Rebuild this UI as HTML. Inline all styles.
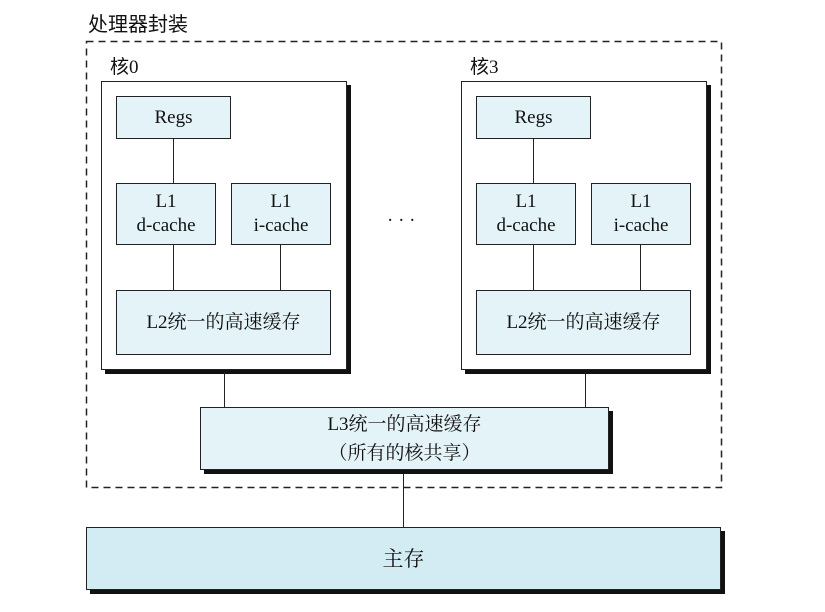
<!DOCTYPE html>
<html><head><meta charset="utf-8"><style>
body{margin:0;width:825px;height:612px;background:#fff;position:relative;overflow:hidden;font-family:"Liberation Serif","Noto Serif CJK SC",serif;color:#111}
.a{position:absolute;box-sizing:border-box}
.b{border:1.5px solid #222;background:#e3f3f8;display:flex;align-items:center;justify-content:center;text-align:center;font-size:19px;line-height:24px}
.sh{box-shadow:4px 4px 0 #111}
.core{border:1.5px solid #222;background:#fff;box-shadow:4px 4px 0 #111}
.v{position:absolute;width:1px;background:#222}
.t{position:absolute;font-size:19px;font-family:"Liberation Serif","Noto Sans CJK SC",sans-serif}
</style></head><body>
<div class="t" style="left:88px;top:8px;font-size:20px">处理器封装</div>
<svg class="a" style="left:0;top:0" width="825" height="612"><rect x="86.5" y="41.5" width="635" height="446" fill="none" stroke="#222" stroke-width="1.5" stroke-dasharray="7,5"/></svg>

<div class="t" style="left:110px;top:52px">核0</div>
<div class="a core" style="left:101px;top:81px;width:246px;height:289px"></div>
<div class="a b" style="left:116px;top:96px;width:115px;height:43px">Regs</div>
<div class="a b" style="left:116px;top:183px;width:100px;height:62px">L1<br>d-cache</div>
<div class="a b" style="left:231px;top:183px;width:100px;height:62px">L1<br>i-cache</div>
<div class="a b" style="left:116px;top:290px;width:215px;height:65px">L2统一的高速缓存</div>
<div class="v" style="left:173px;top:139px;height:44px"></div>
<div class="v" style="left:173px;top:245px;height:45px"></div>
<div class="v" style="left:280px;top:245px;height:45px"></div>

<div class="t" style="left:470px;top:52px">核3</div>
<div class="a core" style="left:461px;top:81px;width:246px;height:289px"></div>
<div class="a b" style="left:476px;top:96px;width:115px;height:43px">Regs</div>
<div class="a b" style="left:476px;top:183px;width:100px;height:62px">L1<br>d-cache</div>
<div class="a b" style="left:591px;top:183px;width:100px;height:62px">L1<br>i-cache</div>
<div class="a b" style="left:476px;top:290px;width:215px;height:65px">L2统一的高速缓存</div>
<div class="v" style="left:533px;top:139px;height:44px"></div>
<div class="v" style="left:533px;top:245px;height:45px"></div>
<div class="v" style="left:640px;top:245px;height:45px"></div>

<div class="t" style="left:387px;top:210px">· · ·</div>

<div class="v" style="left:224px;top:372px;height:35px"></div>
<div class="v" style="left:585px;top:372px;height:35px"></div>
<div class="a b sh" style="left:200px;top:407px;width:409px;height:63px;line-height:29px">L3统一的高速缓存<br>（所有的核共享）</div>
<div class="v" style="left:403px;top:474px;height:53px"></div>
<div class="a b sh" style="left:86px;top:527px;width:635px;height:63px;background:#d3ebf3;font-size:21px">主存</div>
</body></html>
